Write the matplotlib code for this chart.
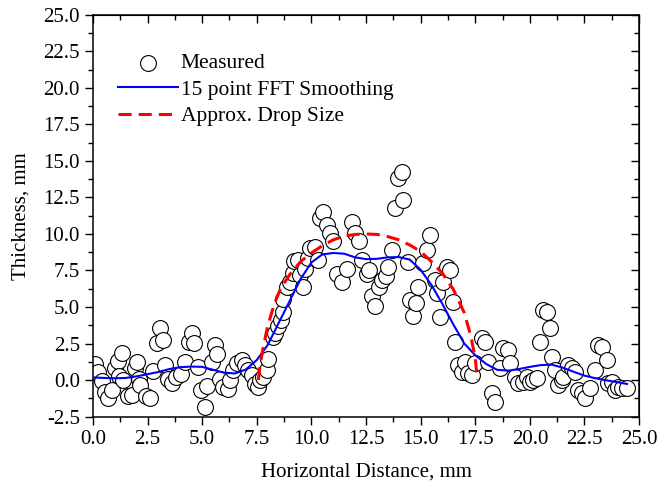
import matplotlib

matplotlib.use("Agg")
import matplotlib.pyplot as plt
import numpy as np

# measured thickness points (mm)
meas_x = [0.10, 0.22, 0.40, 0.55, 0.70, 0.86, 1.01, 1.14, 1.31, 1.20, 1.39, 1.62, 1.80,
          1.92, 2.03, 2.10, 2.15, 2.42, 2.61, 2.74, 2.92, 3.07, 3.22, 3.30, 3.45, 3.62,
          3.78, 4.05, 4.21, 4.38, 4.52, 4.63, 4.80, 4.95, 5.15, 5.22, 5.43, 5.59, 5.68,
          5.81, 5.97, 6.18, 6.27, 6.42, 6.58, 6.81, 6.96, 7.11, 7.27, 7.40, 7.57, 7.65,
          7.80, 7.95, 8.03, 8.26, 8.33, 8.49, 8.60, 8.68, 8.71, 8.87, 9.02, 9.17, 9.22,
          9.40, 9.48, 9.63, 9.71, 9.84, 9.94, 10.16, 10.32, 10.40, 10.55, 10.70, 10.85,
          11.00, 11.16, 11.39, 11.62, 11.85, 12.00, 12.20, 12.31, 12.53, 12.65, 12.76,
          12.91, 13.10, 13.25, 13.40, 13.52, 13.68, 13.83, 13.98, 14.13, 14.21, 14.40,
          14.51, 14.67, 14.78, 14.90, 15.12, 15.28, 15.43, 15.66, 15.74, 15.89, 16.04,
          16.19, 16.35, 16.50, 16.57, 16.73, 16.88, 17.03, 17.18, 17.34, 17.49, 17.80,
          17.95, 18.10, 18.26, 18.41, 18.64, 18.79, 19.02, 19.09, 19.32, 19.47, 19.70,
          19.85, 20.00, 20.16, 20.31, 20.47, 20.62, 20.77, 20.92, 21.00, 21.15, 21.31,
          21.46, 21.54, 21.76, 21.92, 22.07, 22.22, 22.38, 22.53, 22.76, 22.99, 23.14,
          23.29, 23.52, 23.60, 23.75, 23.90, 24.05, 24.21, 24.43]
meas_y = [1.10, 0.57, -0.10, -0.82, -1.25, -0.68, 0.85, 1.30, 1.85, 0.30, 0.00, -1.10, -1.05,
          0.80, 1.25, 0.10, -0.34, -1.10, -1.22, 0.60, 2.55, 3.55, 2.74, 1.03, 0.05, -0.22,
          0.18, 0.40, 1.25, 2.62, 3.21, 2.55, 0.90, -0.68, -1.88, -0.40, 1.25, 2.40, 1.75,
          0.05, -0.46, -0.62, 0.00, 0.68, 1.14, 1.37, 1.03, 0.68, 0.34, -0.30, -0.46, 0.00,
          0.23, 0.68, 1.45, 2.95, 3.20, 3.70, 4.11, 4.68, 5.55, 6.39, 6.73, 7.31, 8.15,
          8.22, 7.19, 6.39, 7.60, 8.33, 9.05, 9.13, 8.22, 11.07, 11.53, 10.62, 10.05,
          9.55, 7.25, 6.73, 7.60, 10.84, 10.05, 9.50, 8.22, 7.25, 7.53, 5.75,
          5.08, 6.39, 6.85, 7.15, 7.76, 8.90, 11.76, 13.81, 14.27, 12.33, 8.05,
          5.48, 4.40, 5.25, 6.39, 7.99, 8.90, 9.93, 6.85, 5.94, 4.34, 6.73,
          7.76, 7.53, 5.36, 2.62, 1.03, 0.57, 1.25, 0.46, 0.34, 1.14, 2.86,
          2.62, 1.25, -0.91, -1.48, 0.80, 2.17, 2.05, 1.14, 0.23, -0.23, -0.11,
          0.20, -0.11, 0.00, 0.11, 2.62, 4.79, 4.68, 3.54, 1.60, 0.68, -0.34,
          0.00, 0.23, 1.03, 0.80, 0.57, -0.68, -0.91, -1.25, -0.57, 0.68, 2.40,
          2.28, 1.37, -0.23, -0.11, -0.68, -0.46, -0.57, -0.57]

# 15 point FFT smoothing curve
fft_x = [0.0, 0.5, 1.0, 1.5, 2.0, 2.5, 3.0, 3.5, 4.0, 4.5, 5.0, 5.5, 6.0, 6.5, 7.0, 7.5,
         8.0, 8.5, 9.0, 9.5, 10.0, 10.5, 11.0, 11.5, 12.0, 12.5, 13.0, 13.5, 14.0, 14.5,
         15.0, 15.5, 16.0, 16.5, 17.0, 17.5, 18.0, 18.5, 19.0, 19.5, 20.0, 20.5, 21.0,
         21.5, 22.0, 22.5, 23.0, 23.5, 24.0, 24.45]
fft_y = [0.18, 0.14, 0.12, 0.14, 0.25, 0.40, 0.55, 0.75, 0.88, 0.92, 0.90, 0.70, 0.50, 0.45,
         0.72, 1.37, 2.40, 3.90, 5.40, 6.90, 8.05, 8.60, 8.70, 8.65, 8.40, 8.28, 8.30, 8.40,
         8.42, 8.25, 7.55, 6.50, 5.20, 3.80, 2.50, 1.70, 1.10, 0.70, 0.64, 0.75, 0.90, 1.02,
         1.05, 0.85, 0.57, 0.30, 0.12, -0.02, -0.15, -0.27]

# approximate drop outline
drop_x = [7.57, 7.65, 7.80, 8.00, 8.30, 8.60, 9.00, 9.50, 10.0, 10.5, 11.0, 11.5, 12.0, 12.5,
          13.0, 13.5, 14.0, 14.5, 15.0, 15.5, 16.0, 16.5, 17.0, 17.3, 17.5, 17.6]
drop_y = [0.0, 1.0, 2.3, 3.7, 5.2, 6.3, 7.2, 8.1, 8.7, 9.2, 9.6, 9.85, 9.97, 10.0,
          9.97, 9.82, 9.6, 9.25, 8.8, 8.1, 7.3, 6.2, 4.6, 3.0, 1.5, 0.0]

plt.rcParams["font.family"] = ["Liberation Serif", "DejaVu Serif"]

fig = plt.figure(figsize=(6.59, 4.88), dpi=100)
ax = fig.add_axes([0.1411, 0.1465, 0.8286, 0.8228])

ax.scatter(meas_x, meas_y, s=130, facecolors="white", edgecolors="black",
           linewidths=0.8, zorder=2, label="Measured")
ax.plot(fft_x, fft_y, color="#0000ff", lw=1.5, zorder=3, label="15 point FFT Smoothing")
ax.plot(drop_x, drop_y, color="#ff0000", lw=2.2, dashes=(4.3, 2.3), zorder=4,
        label="Approx. Drop Size")

ax.set_xlim(0, 25)
ax.set_ylim(-2.5, 25)
ax.set_xticks(np.arange(0, 25.01, 2.5))
ax.set_yticks(np.arange(-2.5, 25.01, 2.5))
ax.set_xticks(np.arange(1.25, 25, 2.5), minor=True)
ax.set_yticks(np.arange(-1.25, 25, 2.5), minor=True)
ax.xaxis.set_major_formatter(matplotlib.ticker.FormatStrFormatter("%.1f"))
ax.yaxis.set_major_formatter(matplotlib.ticker.FormatStrFormatter("%.1f"))
ax.tick_params(which="both", direction="out", labelsize=15, width=1.0)
ax.tick_params(which="major", length=6)
ax.tick_params(which="minor", length=3.5)
for s in ax.spines.values():
    s.set_linewidth(1.1)

# mirrored inward ticks on top/right
top = ax.secondary_xaxis("top")
top.set_xticks(np.arange(0, 25.01, 2.5))
top.set_xticks(np.arange(1.25, 25, 2.5), minor=True)
top.tick_params(which="both", direction="in", labeltop=False, width=1.0)
top.tick_params(which="major", length=6)
top.tick_params(which="minor", length=3.5)
right = ax.secondary_yaxis("right")
right.set_yticks(np.arange(-2.5, 25.01, 2.5))
right.set_yticks(np.arange(-1.25, 25, 2.5), minor=True)
right.tick_params(which="both", direction="in", labelright=False, width=1.0)
right.tick_params(which="major", length=6)
right.tick_params(which="minor", length=3.5)

ax.set_xlabel("Horizontal Distance, mm", fontsize=15, labelpad=10)
ax.set_ylabel("Thickness, mm", fontsize=15, labelpad=9)

ax.legend(loc="upper left", bbox_to_anchor=(0.046, 0.905), frameon=False, fontsize=15.5,
          handlelength=2.8, handletextpad=0.1, labelspacing=0.3, borderpad=0,
          borderaxespad=0, scatterpoints=1)

fig.savefig("out.png", dpi=100)
